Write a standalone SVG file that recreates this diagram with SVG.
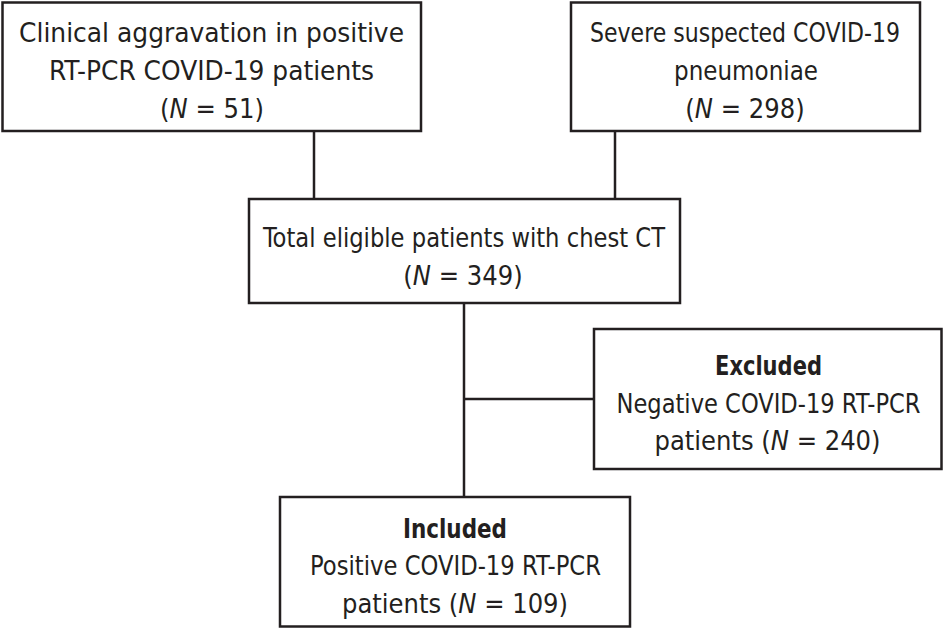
<svg xmlns="http://www.w3.org/2000/svg" width="943" height="629" viewBox="0 0 943 629">
<style>
.box{fill:#fff;stroke:#231f20;stroke-width:2.5}
.ln{fill:none;stroke:#231f20;stroke-width:2.5}
text{font-family:"DejaVu Sans Condensed","Liberation Sans",sans-serif;font-size:27px;fill:#231f20;text-anchor:middle}
.b{font-weight:bold}
.i{font-style:italic}
</style>
<rect width="943" height="629" fill="#fff"/>
<g id="connectors">
<line class="ln" x1="314" y1="131" x2="314" y2="199"/>
<line class="ln" x1="615" y1="131" x2="615" y2="199"/>
<line class="ln" x1="464" y1="303" x2="464" y2="497"/>
<line class="ln" x1="464" y1="399" x2="594" y2="399"/>
</g>
<g id="node-clinical">
<rect class="box" x="2.5" y="2.5" width="418.5" height="128.5"/>
<text x="211.5" y="42" textLength="385" lengthAdjust="spacingAndGlyphs">Clinical aggravation in positive</text>
<text x="211.5" y="80" textLength="325" lengthAdjust="spacingAndGlyphs">RT-PCR COVID-19 patients</text>
<text x="212" y="118">(<tspan class="i">N</tspan> = 51)</text>
</g>
<g id="node-severe">
<rect class="box" x="571" y="2.5" width="349" height="128.5"/>
<text x="745" y="42" textLength="310" lengthAdjust="spacingAndGlyphs">Severe suspected COVID-19</text>
<text x="746" y="80" textLength="144" lengthAdjust="spacingAndGlyphs">pneumoniae</text>
<text x="745" y="118">(<tspan class="i">N</tspan> = 298)</text>
</g>
<g id="node-total">
<rect class="box" x="249" y="199" width="431" height="104"/>
<text x="464" y="247" textLength="402" lengthAdjust="spacingAndGlyphs">Total eligible patients with chest CT</text>
<text x="463" y="285">(<tspan class="i">N</tspan> = 349)</text>
</g>
<g id="node-excluded">
<rect class="box" x="594" y="329" width="347.5" height="140"/>
<text class="b" x="768.5" y="375" textLength="107" lengthAdjust="spacingAndGlyphs">Excluded</text>
<text x="768.5" y="413" textLength="304" lengthAdjust="spacingAndGlyphs">Negative COVID-19 RT-PCR</text>
<text x="767.5" y="450">patients (<tspan class="i">N</tspan> = 240)</text>
</g>
<g id="node-included">
<rect class="box" x="280" y="497" width="350" height="129.5"/>
<text class="b" x="455" y="538" textLength="104" lengthAdjust="spacingAndGlyphs">Included</text>
<text x="455.5" y="575" textLength="291" lengthAdjust="spacingAndGlyphs">Positive COVID-19 RT-PCR</text>
<text x="455" y="613">patients (<tspan class="i">N</tspan> = 109)</text>
</g>
</svg>
